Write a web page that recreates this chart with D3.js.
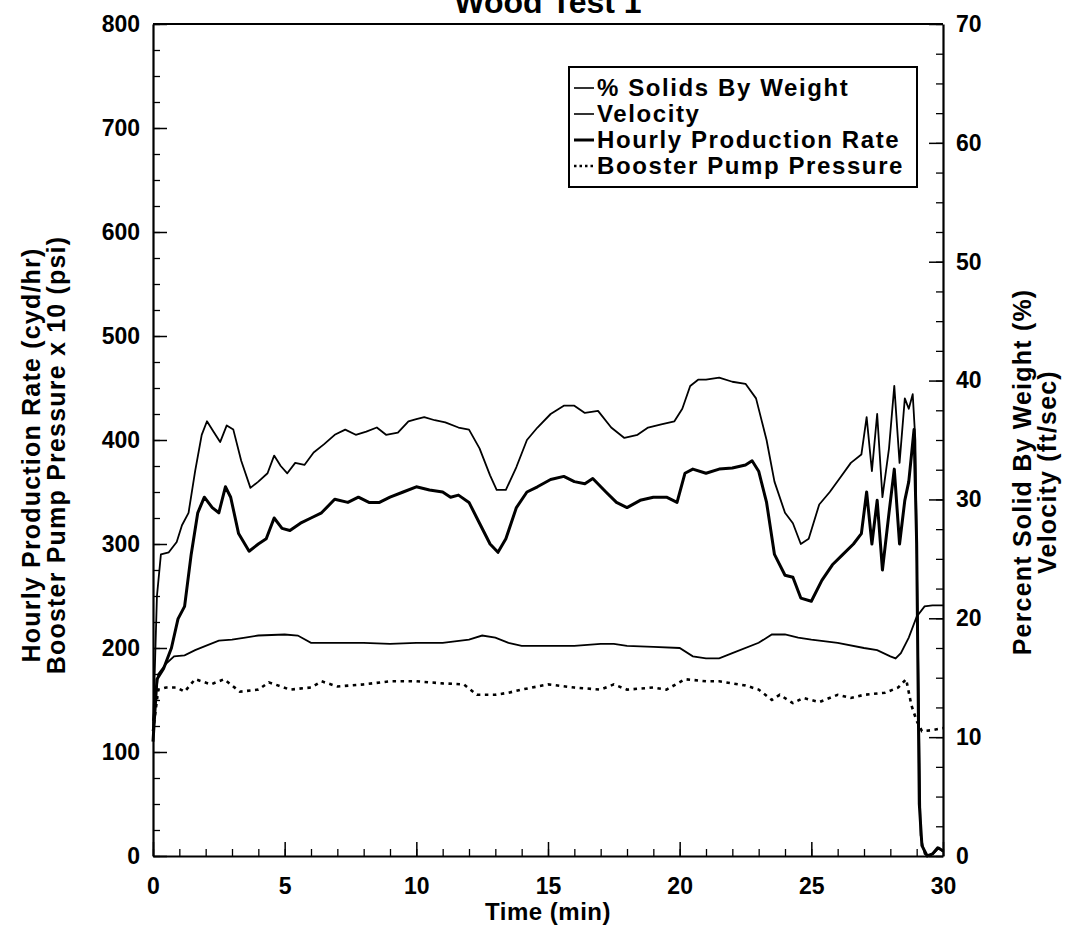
<!DOCTYPE html>
<html>
<head>
<meta charset="utf-8">
<script src="https://cdn.jsdelivr.net/npm/d3@7"></script>
<style>
  html, body { margin: 0; padding: 0; background: #fff; }
  svg { display: block; }
  text { font-family: "Liberation Sans", Arial, Helvetica, sans-serif; fill: #000; }
</style>
</head>
<body>
<svg id="chart" width="1078" height="930"></svg>
<script>
// ---------------- data ----------------
const title = "Wood Test 1";
const xTicks = [0, 5, 10, 15, 20, 25, 30];
const leftTicks = [0, 100, 200, 300, 400, 500, 600, 700, 800];
const rightTicks = [0, 10, 20, 30, 40, 50, 60, 70];

// % Solids By Weight, expressed on the left-axis scale (800 <-> 70 %)
const solidsT = [0, 0.15, 0.3, 0.6, 0.9, 1.1, 1.35, 1.6, 1.85, 2.05, 2.3, 2.55, 2.8, 3.05, 3.35, 3.7, 4.0, 4.35, 4.6, 4.85, 5.1, 5.4, 5.75, 6.1, 6.5, 6.9, 7.3, 7.7, 8.1, 8.5, 8.85, 9.3, 9.7, 10.0, 10.3, 10.7, 11.1, 11.6, 12.0, 12.4, 12.8, 13.05, 13.4, 13.8, 14.2, 14.6, 15.1, 15.6, 16.0, 16.4, 16.9, 17.4, 17.9, 18.4, 18.8, 19.3, 19.8, 20.1, 20.4, 20.7, 21.0, 21.5, 22.0, 22.5, 22.9, 23.3, 23.6, 24.0, 24.3, 24.6, 24.9, 25.3, 25.7, 26.1, 26.5, 26.9, 27.1, 27.3, 27.5, 27.7, 27.95, 28.15, 28.35, 28.55, 28.7, 28.85, 28.95, 29.05, 29.15, 29.3, 29.5, 29.7, 29.85, 30.0];
const solidsV = [120, 250, 290, 292, 302, 318, 330, 370, 405, 418, 408, 398, 414, 410, 380, 354, 360, 368, 385, 375, 368, 378, 376, 388, 396, 405, 410, 405, 408, 412, 405, 407, 418, 420, 422, 419, 417, 412, 410, 392, 366, 352, 352, 374, 400, 412, 425, 433, 433, 426, 428, 412, 402, 405, 412, 415, 418, 430, 452, 458, 458, 460, 456, 454, 440, 400, 360, 330, 320, 300, 305, 338, 350, 364, 378, 386, 422, 370, 425, 345, 392, 452, 378, 440, 430, 444, 400, 200, 20, 2, 0, 4, 8, 4];

// Hourly Production Rate (cyd/hr)
const prodT = [0, 0.15, 0.4, 0.7, 0.95, 1.2, 1.45, 1.7, 1.95, 2.25, 2.5, 2.75, 2.95, 3.25, 3.65, 4.0, 4.3, 4.6, 4.9, 5.2, 5.6, 6.0, 6.4, 6.9, 7.4, 7.8, 8.2, 8.6, 9.0, 9.5, 10.0, 10.5, 11.0, 11.3, 11.6, 12.0, 12.4, 12.8, 13.1, 13.4, 13.8, 14.2, 14.6, 15.1, 15.6, 16.0, 16.4, 16.7, 17.2, 17.6, 18.0, 18.5, 19.0, 19.5, 19.9, 20.2, 20.5, 21.0, 21.5, 22.0, 22.5, 22.75, 23.0, 23.3, 23.6, 24.0, 24.3, 24.6, 25.0, 25.4, 25.8, 26.2, 26.6, 26.9, 27.1, 27.3, 27.5, 27.7, 27.95, 28.15, 28.35, 28.55, 28.7, 28.9, 29.0, 29.1, 29.2, 29.4, 29.6, 29.8, 30.0];
const prodV = [110, 170, 180, 200, 228, 240, 290, 330, 345, 335, 330, 355, 345, 310, 293, 300, 305, 325, 315, 313, 320, 325, 330, 343, 340, 345, 340, 340, 345, 350, 355, 352, 350, 345, 347, 340, 320, 300, 292, 305, 335, 350, 355, 362, 365, 360, 358, 363, 350, 340, 335, 342, 345, 345, 340, 368, 372, 368, 372, 373, 376, 380, 370, 340, 290, 270, 268, 248, 245, 265, 280, 290, 300, 310, 350, 300, 342, 275, 330, 372, 300, 342, 360, 410, 300, 50, 10, 0, 2, 8, 5];

// Velocity, expressed on the left-axis scale (800 <-> 70 ft/sec)
const velT = [0, 0.2, 0.5, 0.8, 1.2, 1.6, 2.0, 2.5, 3.0, 3.5, 4.0, 5.0, 5.5, 6.0, 7.0, 8.0, 9.0, 10.0, 11.0, 12.0, 12.5, 13.0, 13.5, 14.0, 15.0, 16.0, 17.0, 17.5, 18.0, 19.0, 20.0, 20.5, 21.0, 21.5, 22.0, 23.0, 23.5, 24.0, 24.5, 25.0, 26.0, 27.0, 27.5, 28.0, 28.2, 28.4, 28.7, 29.0, 29.3, 29.6, 30.0];
const velV = [130, 175, 185, 192, 193, 198, 202, 207, 208, 210, 212, 213, 212, 205, 205, 205, 204, 205, 205, 208, 212, 210, 205, 202, 202, 202, 204, 204, 202, 201, 200, 192, 190, 190, 195, 205, 213, 213, 210, 208, 205, 200, 198, 192, 190, 195, 210, 230, 240, 241, 241];

// Booster Pump Pressure x 10 (psi)
const pumpT = [0, 0.2, 0.5, 0.9, 1.2, 1.6, 2.2, 2.7, 3.3, 4.0, 4.4, 5.2, 6.0, 6.4, 7.0, 8.0, 9.0, 10.0, 11.0, 11.8, 12.3, 13.0, 13.5, 14.0, 15.0, 16.0, 17.0, 17.5, 18.0, 19.0, 19.5, 20.2, 21.0, 21.5, 22.5, 23.0, 23.5, 23.8, 24.3, 24.7, 25.3, 26.0, 26.5, 27.0, 27.8, 28.3, 28.6, 28.8, 29.0, 29.2, 29.6, 30.0];
const pumpV = [120, 160, 162, 162, 158, 170, 165, 170, 158, 160, 167, 160, 162, 168, 163, 165, 168, 168, 166, 165, 155, 155, 157, 160, 165, 162, 160, 165, 160, 162, 160, 170, 168, 168, 164, 160, 150, 155, 147, 152, 148, 155, 152, 155, 157, 162, 170, 145, 130, 120, 121, 123];

const legendLabels = ["% Solids By Weight", "Velocity", "Hourly Production Rate", "Booster Pump Pressure"];

// ---------------- drawing ----------------
const svg = d3.select("#chart");
const m = { left: 153, right: 943, top: 24, bottom: 856 };

const x = d3.scaleLinear().domain([0, 30]).range([m.left, m.right]);
const yL = d3.scaleLinear().domain([0, 800]).range([m.bottom, m.top]);
const yR = d3.scaleLinear().domain([0, 70]).range([m.bottom, m.top]);

const font = 23;
const titleFont = 25;

// title (partly cut off at the top, as in the reference)
svg.append("text").attr("x", 548).attr("y", 13).attr("text-anchor", "middle")
  .attr("font-size", 32).attr("font-weight", "bold").text(title);

// frame
svg.append("line").attr("x1", m.left).attr("x2", m.right).attr("y1", m.top).attr("y2", m.top)
  .attr("stroke", "#000").attr("stroke-width", 2);

function styleAxis(g) {
  g.select(".domain").attr("stroke", "#000").attr("stroke-width", 2.2);
  g.selectAll(".tick line").attr("stroke", "#000").attr("stroke-width", 1.5);
  g.selectAll(".tick text").attr("font-size", font).attr("font-weight", "bold").attr("fill", "#000");
}

// minor ticks
const gMinor = svg.append("g");
gMinor.append("g").attr("transform", `translate(0,${m.bottom})`)
  .call(d3.axisTop(x).tickValues(d3.range(0, 31, 1)).tickSize(7).tickFormat(""))
  .call(g => { g.select(".domain").remove(); g.selectAll("line").attr("stroke", "#000").attr("stroke-width", 1.3); });
gMinor.append("g").attr("transform", `translate(${m.left},0)`)
  .call(d3.axisRight(yL).tickValues(d3.range(0, 801, 25)).tickSize(7).tickFormat(""))
  .call(g => { g.select(".domain").remove(); g.selectAll("line").attr("stroke", "#000").attr("stroke-width", 1.3); });
gMinor.append("g").attr("transform", `translate(${m.right},0)`)
  .call(d3.axisLeft(yR).tickValues(d3.range(0, 70.1, 2.5)).tickSize(7).tickFormat(""))
  .call(g => { g.select(".domain").remove(); g.selectAll("line").attr("stroke", "#000").attr("stroke-width", 1.3); });

// bottom axis
const gx = svg.append("g").attr("transform", `translate(0,${m.bottom})`)
  .call(d3.axisBottom(x).tickValues(xTicks).tickSizeInner(-14).tickSizeOuter(0).tickPadding(20).tickFormat(d3.format("d")));
styleAxis(gx);
gx.selectAll(".tick text").attr("dy", "0.71em").attr("y", 22);

// left axis
const gl = svg.append("g").attr("transform", `translate(${m.left},0)`)
  .call(d3.axisLeft(yL).tickValues(leftTicks).tickSizeInner(-14).tickSizeOuter(0).tickPadding(14));
styleAxis(gl);
gl.selectAll(".tick text").attr("x", -13);

// right axis
const gr = svg.append("g").attr("transform", `translate(${m.right},0)`)
  .call(d3.axisRight(yR).tickValues(rightTicks).tickSizeInner(-14).tickSizeOuter(0).tickPadding(14));
styleAxis(gr);
gr.selectAll(".tick text").attr("x", 13);

// axis titles
svg.append("text").attr("x", 548).attr("y", 912).attr("text-anchor", "middle").attr("dy", "0.35em")
  .attr("font-size", 24).attr("font-weight", "bold").attr("letter-spacing", 0.5).text("Time (min)");
const leftTitles = ["Hourly Production Rate (cyd/hr)", "Booster Pump Pressure x 10 (psi)"];
leftTitles.forEach((t, i) => {
  svg.append("text").attr("transform", `translate(${31 + i * 25},455) rotate(-90)`)
    .attr("text-anchor", "middle").attr("dy", "0.35em")
    .attr("font-size", titleFont).attr("font-weight", "bold").attr("letter-spacing", 1.2).text(t);
});
const rightTitles = ["Percent Solid By Weight (%)", "Velocity (ft/sec)"];
rightTitles.forEach((t, i) => {
  svg.append("text").attr("transform", `translate(${1022 + i * 25},472) rotate(-90)`)
    .attr("text-anchor", "middle").attr("dy", "0.35em")
    .attr("font-size", titleFont).attr("font-weight", "bold").attr("letter-spacing", 1.2).text(t);
});

// series
function series(T, V) { return T.map((t, i) => [t, V[i]]); }
const line = d3.line().x(d => x(d[0])).y(d => yL(d[1]));

const plot = svg.append("g");
plot.append("path").datum(series(pumpT, pumpV)).attr("d", line)
  .attr("fill", "none").attr("stroke", "#000").attr("stroke-width", 2.6).attr("stroke-dasharray", "3.5,4.5");
plot.append("path").datum(series(velT, velV)).attr("d", line)
  .attr("fill", "none").attr("stroke", "#000").attr("stroke-width", 1.8);
plot.append("path").datum(series(solidsT, solidsV)).attr("d", line)
  .attr("fill", "none").attr("stroke", "#000").attr("stroke-width", 1.8).attr("stroke-linejoin", "round");
plot.append("path").datum(series(prodT, prodV)).attr("d", line)
  .attr("fill", "none").attr("stroke", "#000").attr("stroke-width", 3).attr("stroke-linejoin", "round");

// legend
const lg = svg.append("g");
lg.append("rect").attr("x", 569).attr("y", 67).attr("width", 348).attr("height", 120)
  .attr("fill", "#fff").attr("stroke", "#000").attr("stroke-width", 2);
const legStyles = [
  { w: 1.6, dash: null },
  { w: 1.6, dash: null },
  { w: 3, dash: null },
  { w: 2.4, dash: "2.5,3" }
];
legendLabels.forEach((lab, i) => {
  const yy = 88 + i * 26;
  lg.append("line").attr("x1", 574).attr("x2", 594).attr("y1", yy).attr("y2", yy)
    .attr("stroke", "#000").attr("stroke-width", legStyles[i].w)
    .attr("stroke-dasharray", legStyles[i].dash);
  lg.append("text").attr("x", 597).attr("y", yy).attr("dy", "0.35em")
    .attr("font-size", 24).attr("font-weight", "bold").attr("letter-spacing", 1.6).text(lab);
});
</script>
</body>
</html>
